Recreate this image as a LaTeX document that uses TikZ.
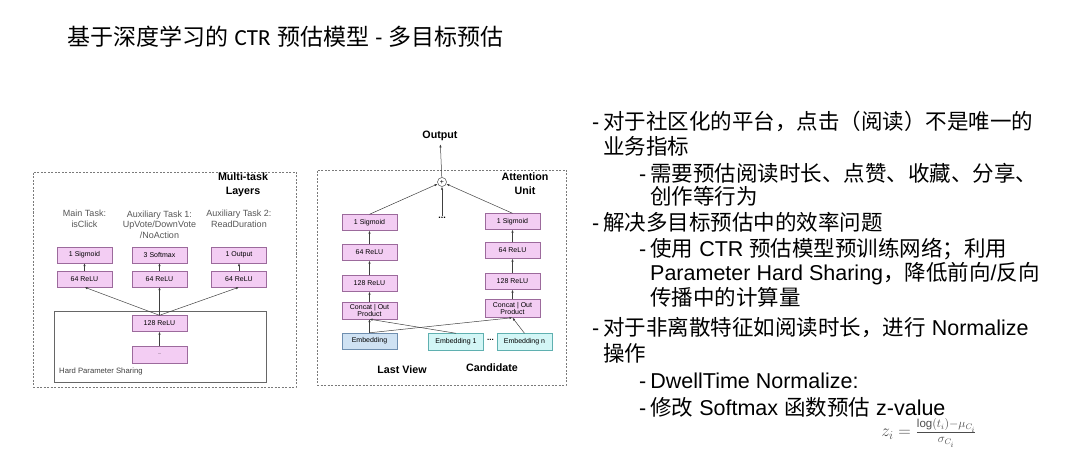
\documentclass[tikz,border=0pt]{standalone}
\usepackage{fontspec}
\setmainfont{Liberation Sans}
\newfontfamily\cjk{Noto Sans CJK SC}
\newfontfamily\cali{Carlito}
\usetikzlibrary{arrows.meta}
\definecolor{boxpink}{HTML}{F3CDF3}
\definecolor{pinkline}{HTML}{9C6A9C}
\definecolor{boxblue}{HTML}{CFE2F3}
\definecolor{blueline}{HTML}{6F8FB0}
\definecolor{boxcyan}{HTML}{D3F6F6}
\definecolor{cyanline}{HTML}{5FB0B0}
\definecolor{framegray}{HTML}{7A7A7A}
\definecolor{labelgray}{HTML}{555555}
\newcommand{\zh}[1]{{\cjk #1}}
\tikzset{
  layer/.style={draw=pinkline, fill=boxpink, minimum width=55pt, minimum height=16pt, inner sep=0pt, align=center, font=\fontsize{7}{7.5}\selectfont},
  embblue/.style={layer, draw=blueline, fill=boxblue},
  embcyan/.style={layer, draw=cyanline, fill=boxcyan},
  frame/.style={draw=framegray, dash pattern=on 2pt off 1.5pt, line width=0.7pt, inner sep=0pt},
  head/.style={font=\bfseries\fontsize{10.7}{14}\selectfont, align=center},
  task/.style={font=\fontsize{9}{10.5}\selectfont, text=labelgray, align=center},
  arr/.style={-{Latex[length=3pt,width=2.4pt]}, draw=black!75, line width=0.5pt},
  line/.style={anchor=base west, inner sep=0pt, font=\fontsize{21.5}{26}\selectfont}
}
\begin{document}
\begin{tikzpicture}[x=1pt,y=-1pt]
\useasboundingbox (0,0) rectangle (1080,468);
% title
\node[anchor=base west, inner sep=0pt, font=\fontsize{23}{27}\selectfont] (title) at (67,46) {\zh{基于深度学习的} {\cali CTR} \zh{预估模型} {\cali -} \zh{多目标预估}};
% multi-task layers
\node[frame, minimum width=263pt, minimum height=215pt] (mtl) at (164.5,279.5) {};
\node[draw=black!60, line width=0.6pt, minimum width=212pt, minimum height=71pt, inner sep=0pt] (hps) at (160,346.5) {};
\node[anchor=west, font=\fontsize{7.7}{8}\selectfont, text=black!75, inner sep=0pt] (hpslabel) at (59,372) {Hard Parameter Sharing};
\node[head] (mtlhead) at (243,185) {Multi-task\\Layers};
\node[task] (maintask) at (84.5,219) {Main Task:\\isClick};
\node[task] (auxone) at (159.5,224.5) {Auxiliary Task 1:\\UpVote/DownVote\\/NoAction};
\node[task] (auxtwo) at (239,219) {Auxiliary Task 2:\\ReadDuration};
\node[layer] (sig) at (84.5,255) {1 Sigmoid};
\node[layer] (soft) at (159.5,255) {3 Softmax};
\node[layer] (outp) at (239,255) {1 Output};
\node[layer] (reluA) at (84.5,279) {64 ReLU};
\node[layer] (reluB) at (159.5,279) {64 ReLU};
\node[layer] (reluC) at (239,279) {64 ReLU};
\node[layer] (shared) at (159.5,323.5) {128 ReLU};
\node[layer, minimum height=17pt] (lower) at (159.5,354.5) {\fontsize{4}{4}\selectfont ...};
\draw[arr] (reluA) -- (sig);
\draw[arr] (reluB) -- (soft);
\draw[arr] (reluC) -- (outp);
\draw[arr] (shared.north) -- (reluA.south);
\draw[arr] (shared.north) -- (reluB.south);
\draw[arr] (shared.north) -- (reluC.south);
\draw[arr] (lower) -- (shared);
% attention unit
\node[frame, minimum width=249pt, minimum height=215pt] (att) at (441.5,277.5) {};
\node[head] (atthead) at (525,184) {Attention\\Unit};
\node[head] (output) at (440,136) {Output};
\node[draw=black!70, circle, minimum size=9pt, inner sep=0pt, fill=white, line width=0.5pt] (plus) at (442,182) {\fontsize{7}{7}\selectfont +};
\node[font=\bfseries\fontsize{9}{9}\selectfont, inner sep=1pt] (more) at (442,218) {...};
\node[layer] (lsig) at (369.5,222.5) {1 Sigmoid};
\node[layer] (lrelu64) at (369.5,252.5) {64 ReLU};
\node[layer] (lrelu128) at (369.5,283.5) {128 ReLU};
\node[layer, minimum height=17pt] (lcat) at (369.5,310.5) {Concat | Out\\Product};
\node[embblue] (lastemb) at (369.5,341) {Embedding};
\node[layer] (rsig) at (512.5,221.5) {1 Sigmoid};
\node[layer] (rrelu64) at (512.5,250.5) {64 ReLU};
\node[layer] (rrelu128) at (512.5,281.5) {128 ReLU};
\node[layer, minimum height=18pt] (rcat) at (512.5,308.5) {Concat | Out\\Product};
\node[embcyan, minimum height=17pt] (candone) at (456,342) {Embedding 1};
\node[embcyan, minimum height=17pt] (candn) at (524.5,342) {Embedding n};
\node[font=\bfseries\fontsize{8}{8}\selectfont] (embdots) at (490.5,340) {...};
\node[head] (lastview) at (402,370) {Last View};
\node[head] (candidate) at (492,368) {Candidate};
\draw[arr] (lastemb) -- (lcat);
\draw[arr] (lcat) -- (lrelu128);
\draw[arr] (lrelu128) -- (lrelu64);
\draw[arr] (lrelu64) -- (lsig);
\draw[arr] (rcat) -- (rrelu128);
\draw[arr] (rrelu128) -- (rrelu64);
\draw[arr] (rrelu64) -- (rsig);
\draw[arr] (lastemb.north) -- (rcat.south);
\draw[arr] (candone.north) -- (lcat.south);
\draw[arr] (candn.north) -- (rcat.south);
\draw[arr] (lsig.north) -- (plus);
\draw[arr] (rsig.north) -- (plus);
\draw[arr] (more) -- (plus);
\draw[arr] (plus) -- (output);
% bullet text
\node[line] (l1) at (592,130) {-\hspace{4pt}\zh{对于社区化的平台，点击（阅读）不是唯一的}};
\node[line] (l2) at (603,155) {\zh{业务指标}};
\node[line] (l3) at (639,182) {-\hspace{4pt}\zh{需要预估阅读时长、点赞、收藏、分享、}};
\node[line] (l4) at (650,205) {\zh{创作等行为}};
\node[line] (l5) at (592,231) {-\hspace{4pt}\zh{解决多目标预估中的效率问题}};
\node[line] (l6) at (639,256) {-\hspace{4pt}\zh{使用} CTR \zh{预估模型预训练网络；利用}};
\node[line] (l7) at (650,280) {Parameter Hard Sharing\zh{，降低前向}/\zh{反向}};
\node[line] (l8) at (650,305) {\zh{传播中的计算量}};
\node[line] (l9) at (592,335) {-\hspace{4pt}\zh{对于非离散特征如阅读时长，进行} Normalize};
\node[line] (l10) at (603,361) {\zh{操作}};
\node[line] (l11) at (639,388) {-\hspace{4pt}DwellTime Normalize:};
\node[line] (l12) at (639,415) {-\hspace{4pt}\zh{修改} Softmax \zh{函数预估} z-value};
\node[text=black!70, font=\fontsize{16.5}{18}\selectfont] (formula) at (929,433) {$z_i = \frac{\log(t_i)-\mu_{C_i}}{\sigma_{C_i}}$};
\end{tikzpicture}
\end{document}
